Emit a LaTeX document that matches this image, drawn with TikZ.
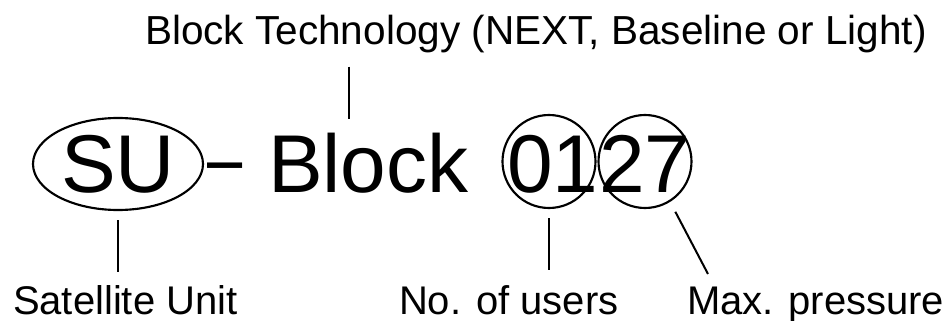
\documentclass[tikz,border=0pt]{standalone}
\usepackage{fontspec}
\usepackage{graphicx}
\setmainfont{Liberation Sans}
\usetikzlibrary{shapes.geometric}
\begin{document}
\begin{tikzpicture}[
  x=0.75pt, y=-0.75pt,
  remark/.style={inner sep=0pt, outer sep=0pt, anchor=base west, font=\fontsize{30}{36}\selectfont},
  code/.style={inner sep=0pt, outer sep=0pt, font=\fontsize{61.5}{70}\selectfont},
  ring/.style={code, draw, line width=1.6pt, circle, minimum size=69.75pt, text height=45.75pt, text depth=0pt},
  leader/.style={line width=1.5pt}
]
\useasboundingbox (0,0) rectangle (943,321);

\node[remark, font=\fontsize{30.4}{36}\selectfont] (tech) at (145,45) {Block Technology (NEXT, Baseline or Light)};

\node[code, draw, line width=1.6pt, ellipse, minimum width=127.5pt, minimum height=69pt, text height=42pt, text depth=0pt] (su) at (118,164) {SU};
\node[code, anchor=base] (dash) at (225.5,186) {\scalebox{0.77}[1]{–}};
\node[code, anchor=base west] (block) at (268,192) {Block};
\node[ring] (c01) at (549,161.5) {\makebox[0pt]{\kern6pt 01}};
\node[ring] (c27) at (645,161.5) {\makebox[0pt]{27}};

\node[remark] (sat) at (13,314) {Satellite Unit};
\node[remark] (users) at (399,314) {No. of users};
\node[remark] (pressure) at (687,314) {Max. pressure};

\coordinate (techx) at (349,0);
\coordinate (pressuretip) at (708,274);
\draw[leader, shorten <=10pt, shorten >=10.5pt] (tech.south -| techx) -- (block.north -| techx);
\draw[leader, shorten <=7.5pt, shorten >=9.5pt] (su.south) -- (sat.north -| su.south);
\draw[leader, shorten <=7.5pt, shorten >=11pt] (c01.south) -- (users.north -| c01.south);
\draw[leader, shorten <=9.2pt] (c27.-58.6) -- (pressuretip);
\end{tikzpicture}
\end{document}
